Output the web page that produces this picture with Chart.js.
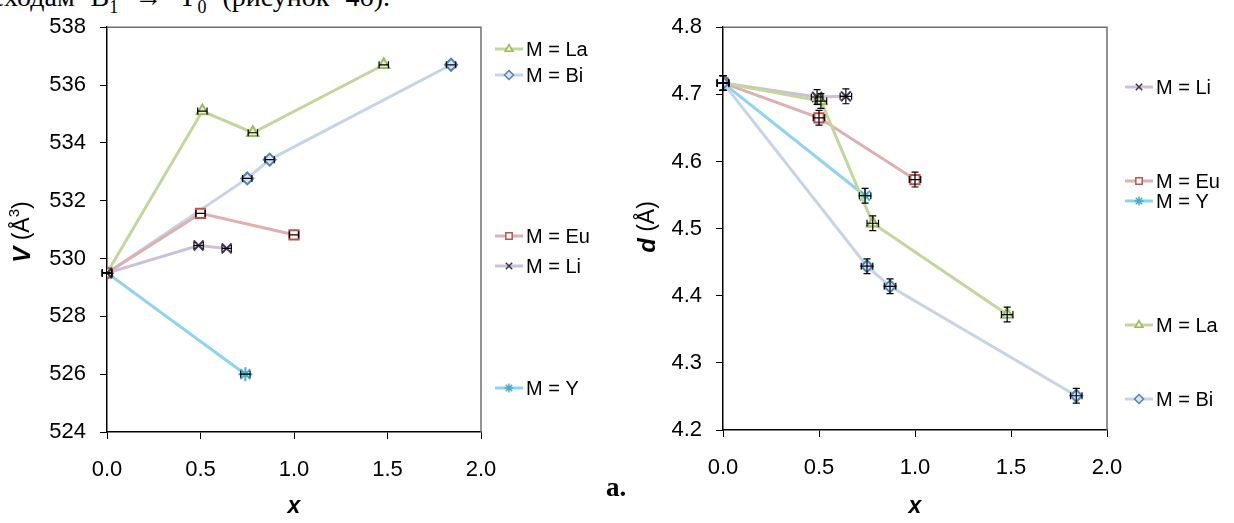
<!DOCTYPE html>
<html>
<head>
<meta charset="utf-8">
<script src="https://cdn.jsdelivr.net/npm/chart.js@4.4.1/dist/chart.umd.min.js"></script>
<style>
  body { margin: 0; background: #fff; width: 1234px; height: 523px; overflow: hidden; position: relative; }
  canvas { position: absolute; top: 0; }
  #volumeChart { left: 0; }
  #distChart { left: 620px; }
  #topText { position: absolute; right: 844px; top: -17px; white-space: nowrap; font-family: "Liberation Serif", serif; font-size: 28px; line-height: 28px; word-spacing: 9px; color: #000; }
  #figLabel { position: absolute; left: 606px; top: 472px; font-family: "Liberation Serif", serif; font-weight: bold; font-size: 27px; color: #000; }
</style>
</head>
<body>
<div id="topText">переходам B<sub style="font-size:18px">1</sub> → Y<sub style="font-size:18px">0</sub> (рисунок 4б).</div>
<canvas id="volumeChart" width="620" height="523"></canvas>
<canvas id="distChart" width="614" height="523"></canvas>
<div id="figLabel">a.</div>
<script>
// x values (composition) for each M
const xLa = [0, 0.51, 0.78, 1.48];
const xBi = [0, 0.75, 0.87, 1.84];
const xEu = [0, 0.50, 1.00];
const xLi = [0, 0.49, 0.64];
const xY = [0, 0.74];

// cell volume V (Å3)
const vLa = [529.5, 535.1, 534.35, 536.7];
const vBi = [529.5, 532.77, 533.42, 536.7];
const vEu = [529.5, 531.56, 530.82];
const vLi = [529.5, 530.45, 530.35];
const vY = [529.5, 526.0];

// distance d (Å)
const dLa = [4.717, 4.690, 4.508, 4.372];
const dBi = [4.717, 4.444, 4.414, 4.251];
const dEu = [4.717, 4.665, 4.573];
const dLi = [4.717, 4.696, 4.697];
const dY = [4.717, 4.549];

// error bars
const volErrX = 0.025;
const volErrY = 0;
const distErrX = 0.03;
const distErrY = 0.011;

const xTicks = [0, 0.5, 1.0, 1.5, 2.0];
const vTicks = [524, 526, 528, 530, 532, 534, 536, 538];
const dTicks = [4.2, 4.3, 4.4, 4.5, 4.6, 4.7, 4.8];

const styles = {
  'M = La': { line: '#C3D69B', mark: '#9BBB59', fill: '#EBF1DE', style: 'triangle', r: 6.5 },
  'M = Bi': { line: '#C6D4E8', mark: '#4F81BD', fill: '#DCE6F2', style: 'rectRot', r: 6 },
  'M = Eu': { line: '#DDB1B0', mark: '#C0504D', fill: '#FFFFFF', style: 'rect', r: 6.5 },
  'M = Li': { line: '#CCC1DA', mark: '#403152', fill: '#403152', style: 'crossRot', r: 7 },
  'M = Y': { line: '#8ED3F0', mark: '#4BACC6', fill: '#4BACC6', style: 'star', r: 7 }
};

function toPoints(xs, ys) {
  return xs.map((x, i) => ({ x: x, y: ys[i] }));
}

function makeDataset(label, xs, ys) {
  const s = styles[label];
  return {
    label: label,
    data: toPoints(xs, ys),
    showLine: true,
    borderColor: s.line,
    borderWidth: 3,
    pointStyle: s.style,
    pointRadius: s.r,
    pointBorderColor: s.mark,
    pointBackgroundColor: s.fill,
    pointBorderWidth: 2
  };
}

// Start of plugins
const framePlugin = {
  id: 'frame',
  afterDraw(chart) {
    const a = chart.chartArea;
    const ctx = chart.ctx;
    ctx.save();
    ctx.strokeStyle = '#707070';
    ctx.lineWidth = 1.5;
    ctx.beginPath();
    ctx.moveTo(a.left, a.top);
    ctx.lineTo(a.right, a.top);
    ctx.lineTo(a.right, a.bottom);
    ctx.stroke();
    ctx.restore();
  }
};

const errorBarPlugin = {
  id: 'errorBars',
  afterDatasetsDraw(chart, args, opts) {
    const ctx = chart.ctx;
    const xs = chart.scales.x;
    const ys = chart.scales.y;
    ctx.save();
    ctx.strokeStyle = '#000';
    ctx.lineWidth = 1.2;
    chart.data.datasets.forEach(ds => {
      ds.data.forEach(p => {
        const px = xs.getPixelForValue(p.x);
        const py = ys.getPixelForValue(p.y);
        ctx.beginPath();
        if (opts.ex) {
          const x1 = xs.getPixelForValue(p.x - opts.ex);
          const x2 = xs.getPixelForValue(p.x + opts.ex);
          ctx.moveTo(x1, py); ctx.lineTo(x2, py);
          ctx.moveTo(x1, py - 3.5); ctx.lineTo(x1, py + 3.5);
          ctx.moveTo(x2, py - 3.5); ctx.lineTo(x2, py + 3.5);
        }
        if (opts.ey) {
          const y1 = ys.getPixelForValue(p.y - opts.ey);
          const y2 = ys.getPixelForValue(p.y + opts.ey);
          ctx.moveTo(px, y1); ctx.lineTo(px, y2);
          ctx.moveTo(px - 3.5, y1); ctx.lineTo(px + 3.5, y1);
          ctx.moveTo(px - 3.5, y2); ctx.lineTo(px + 3.5, y2);
        }
        ctx.stroke();
      });
    });
    ctx.restore();
  }
};

const sideLegendPlugin = {
  id: 'sideLegend',
  afterDraw(chart, args, opts) {
    const ctx = chart.ctx;
    ctx.save();
    ctx.font = '20px "Liberation Sans", Arial, sans-serif';
    ctx.textBaseline = 'middle';
    opts.rows.forEach(row => {
      const s = styles[row.label];
      ctx.strokeStyle = s.line;
      ctx.lineWidth = 3;
      ctx.beginPath();
      ctx.moveTo(opts.x, row.y);
      ctx.lineTo(opts.x + 28, row.y);
      ctx.stroke();
      ctx.strokeStyle = s.mark;
      ctx.fillStyle = s.fill;
      ctx.lineWidth = 1.5;
      Chart.helpers.drawPoint(ctx, { pointStyle: s.style, radius: 4.5, rotation: 0, borderWidth: 1.5 }, opts.x + 14, row.y);
      ctx.fillStyle = '#000';
      ctx.fillText(row.label, opts.x + 31, row.y + 1);
    });
    ctx.restore();
  }
};

const axisTitlePlugin = {
  id: 'axisTitles',
  afterDraw(chart, args, opts) {
    const ctx = chart.ctx;
    const a = chart.chartArea;
    ctx.save();
    ctx.fillStyle = '#000';
    ctx.textBaseline = 'middle';
    // x title
    ctx.font = 'bold italic 23px "Liberation Sans", Arial, sans-serif';
    ctx.textAlign = 'center';
    ctx.fillText('x', (a.left + a.right) / 2, opts.xTitleY);
    // y title, rotated, mixed styles
    const boldFont = 'bold italic 24px "Liberation Sans", Arial, sans-serif';
    const plainFont = '23px "Liberation Sans", Arial, sans-serif';
    const supFont = '15px "Liberation Sans", Arial, sans-serif';
    const parts = [[opts.symbol, boldFont, 0], [' (Å', plainFont, 0]];
    if (opts.sup) parts.push([opts.sup, supFont, -8]);
    parts.push([')', plainFont, 0]);
    let total = 0;
    parts.forEach(p => { ctx.font = p[1]; total += ctx.measureText(p[0]).width; });
    ctx.translate(opts.yTitleX, opts.yTitleMid);
    ctx.rotate(-Math.PI / 2);
    ctx.textAlign = 'left';
    let pos = -total / 2;
    parts.forEach(p => {
      ctx.font = p[1];
      ctx.fillText(p[0], pos, p[2]);
      pos += ctx.measureText(p[0]).width;
    });
    ctx.restore();
  }
};
// End of plugins

function makeChart(canvasId, datasets, cfg) {
  const ctx = document.getElementById(canvasId).getContext('2d');
  return new Chart(ctx, {
    type: 'scatter',
    data: { datasets: datasets },
    options: {
      responsive: false,
      animation: false,
      devicePixelRatio: 1,
      layout: { padding: { top: cfg.top, right: cfg.right, left: 0, bottom: 0 } },
      plugins: {
        legend: { display: false },
        tooltip: { enabled: false },
        errorBars: { ex: cfg.ex, ey: cfg.ey },
        sideLegend: { x: cfg.legendX, rows: cfg.legendRows },
        axisTitles: { symbol: cfg.symbol, sup: cfg.sup, xTitleY: cfg.xTitleY, yTitleX: cfg.yTitleX, yTitleMid: cfg.yTitleMid }
      },
      scales: {
        x: {
          type: 'linear',
          min: 0,
          max: 2,
          afterFit: s => { s.height = 523 - cfg.bottom; },
          afterBuildTicks: s => { s.ticks = xTicks.map(v => ({ value: v })); },
          ticks: {
            padding: 18,
            color: '#000',
            font: { family: '"Liberation Sans", Arial', size: 22 },
            callback: v => v.toFixed(1)
          },
          grid: { drawOnChartArea: false, tickLength: 7, color: '#000', tickColor: '#000' },
          border: { color: '#000', width: 1.5 }
        },
        y: {
          min: cfg.yMin,
          max: cfg.yMax,
          afterFit: s => { s.width = cfg.left; },
          afterBuildTicks: s => { s.ticks = cfg.yTicks.map(v => ({ value: v })); },
          ticks: {
            padding: 14,
            color: '#000',
            font: { family: '"Liberation Sans", Arial', size: 22 },
            callback: v => cfg.yDigits ? v.toFixed(cfg.yDigits) : v
          },
          grid: { drawOnChartArea: false, tickLength: 7, color: '#000', tickColor: '#000' },
          border: { color: '#000', width: 1.5 }
        }
      }
    },
    plugins: [framePlugin, errorBarPlugin, sideLegendPlugin, axisTitlePlugin]
  });
}

// Start of chart no 1 - cell volume
makeChart('volumeChart', [
  makeDataset('M = Li', xLi, vLi),
  makeDataset('M = Eu', xEu, vEu),
  makeDataset('M = Bi', xBi, vBi),
  makeDataset('M = La', xLa, vLa),
  makeDataset('M = Y', xY, vY)
], {
  left: 107, right: 139, top: 25, bottom: 432,
  yMin: 524, yMax: 538, yTicks: vTicks, yDigits: 0,
  ex: volErrX, ey: volErrY,
  symbol: 'V', sup: '3', xTitleY: 507, yTitleX: 23, yTitleMid: 232,
  legendX: 495,
  legendRows: [
    { label: 'M = La', y: 49 },
    { label: 'M = Bi', y: 75 },
    { label: 'M = Eu', y: 236 },
    { label: 'M = Li', y: 266 },
    { label: 'M = Y', y: 388 }
  ]
});
// End of chart no 1

// Start of chart no 2 - distance
makeChart('distChart', [
  makeDataset('M = Bi', xBi, dBi),
  makeDataset('M = La', xLa, dLa),
  makeDataset('M = Eu', xEu, dEu),
  makeDataset('M = Li', xLi, dLi),
  makeDataset('M = Y', xY, dY)
], {
  left: 103, right: 127, top: 22, bottom: 430,
  yMin: 4.2, yMax: 4.8, yTicks: dTicks, yDigits: 1,
  ex: distErrX, ey: distErrY,
  symbol: 'd', sup: '', xTitleY: 507, yTitleX: 28, yTitleMid: 227,
  legendX: 505,
  legendRows: [
    { label: 'M = Li', y: 87 },
    { label: 'M = Eu', y: 181 },
    { label: 'M = Y', y: 201 },
    { label: 'M = La', y: 325 },
    { label: 'M = Bi', y: 399 }
  ]
});
// End of chart no 2
</script>
</body>
</html>
